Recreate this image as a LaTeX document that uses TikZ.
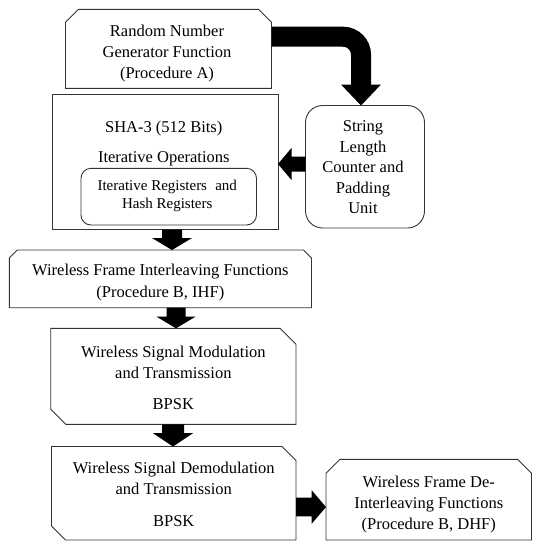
\documentclass[tikz,border=0pt]{standalone}
\usepackage{fontspec}
\setmainfont{Liberation Serif}
\usetikzlibrary{calc}
% chamfered outline around a (shape-only) node: name, tl, tr, br, bl
\newcommand{\chbox}[5]{%
  \draw[outline] ([yshift=-#2pt]#1.north west) -- ([xshift=#2pt]#1.north west)
    -- ([xshift=-#3pt]#1.north east) -- ([yshift=-#3pt]#1.north east)
    -- ([yshift=#4pt]#1.south east) -- ([xshift=-#4pt]#1.south east)
    -- ([xshift=#5pt]#1.south west) -- ([yshift=#5pt]#1.south west) -- cycle;}
% block arrows: start, tip, shaft half width, head half width, head length
\newcommand{\blkdown}[5]{%
  \fill[blk] let \p1=#1, \p2=#2 in (\x2-#3,\y1) -- (\x2-#3,\y2+#5) -- (\x2-#4,\y2+#5)
    -- (\x2,\y2) -- (\x2+#4,\y2+#5) -- (\x2+#3,\y2+#5) -- (\x2+#3,\y1) -- cycle;}
\newcommand{\blkleft}[5]{%
  \fill[blk] let \p1=#1, \p2=#2 in (\x1,\y2-#3) -- (\x2+#5,\y2-#3) -- (\x2+#5,\y2-#4)
    -- (\x2,\y2) -- (\x2+#5,\y2+#4) -- (\x2+#5,\y2+#3) -- (\x1,\y2+#3) -- cycle;}
\newcommand{\blkright}[5]{%
  \fill[blk] let \p1=#1, \p2=#2 in (\x1,\y2-#3) -- (\x2-#5,\y2-#3) -- (\x2-#5,\y2-#4)
    -- (\x2,\y2) -- (\x2-#5,\y2+#4) -- (\x2-#5,\y2+#3) -- (\x1,\y2+#3) -- cycle;}
\tikzset{
  outline/.style={draw=black!80, line width=0.9pt},
  shapebox/.style={draw=none, inner sep=0pt, outer sep=0pt},
  roundbox/.style={outline, inner sep=0pt, outer sep=0pt},
  blk/.style={fill=black},
  lbl/.style={align=center, inner sep=0pt, font=\fontsize{16.5}{21}\selectfont},
  smalllbl/.style={align=center, inner sep=0pt, font=\fontsize{15}{18.5}\selectfont},
}
\begin{document}
\begin{tikzpicture}[x=1pt, y=-1pt]
\useasboundingbox (0,0) rectangle (541,550);
\fill[white] (0,0) rectangle (541,550);

% boxes
\node[shapebox, minimum width=206pt, minimum height=79pt] (A) at (168.5,48.8) {};
\chbox{A}{13}{13}{0}{0}
\node[roundbox, minimum width=225.5pt, minimum height=135.2pt] (sha) at (165.25,161.9) {};
\node[roundbox, rounded corners=10pt, minimum width=175.5pt, minimum height=56.7pt] (reg) at (168.75,196.65) {};
\node[roundbox, rounded corners=17pt, minimum width=119pt, minimum height=122.5pt] (str) at (365,166.75) {};
\node[shapebox, minimum width=302.2pt, minimum height=57.7pt] (wf) at (160.4,278.85) {};
\chbox{wf}{8}{8}{0}{0}
\node[shapebox, minimum width=245.3pt, minimum height=96pt] (mod) at (173.35,376.3) {};
\chbox{mod}{0}{16}{0}{15}
\node[shapebox, minimum width=244.5pt, minimum height=93.5pt] (dem) at (173.75,493.25) {};
\chbox{dem}{0}{14}{0}{14}
\node[shapebox, minimum width=205.5pt, minimum height=80.7pt] (dei) at (428.75,499.65) {};
\chbox{dei}{14}{14}{0}{0}

% labels
\node[lbl] (At) at ([xshift=-1.5pt,yshift=-4.5pt]A.center) {Random Number\\Generator Function\\(Procedure A)};
\node[lbl] (shat) at ([xshift=-1.5pt,yshift=18.5pt]sha.center) {SHA-3 (512 Bits)\\[9pt]Iterative Operations};
\node[smalllbl] (regt) at ([xshift=-1.5pt,yshift=0.5pt]reg.center) {Iterative Registers\hspace{0.3em} and\\Hash Registers};
\node[lbl, font=\fontsize{16.5}{20.5}\selectfont] (strt) at ([xshift=-2pt,yshift=-0.8pt]str.center) {String\\Length\\Counter and\\Padding\\Unit};
\node[lbl, font=\fontsize{16.5}{22}\selectfont] (wft) at ([yshift=-3.2pt]wf.center) {Wireless Frame Interleaving Functions\\(Procedure B, IHF)};
\node[lbl] (modt) at ([yshift=-1.3pt]mod.center) {Wireless Signal Modulation\\and Transmission\\[10pt]BPSK};
\node[lbl] (demt) at ([yshift=-1.3pt]dem.center) {Wireless Signal Demodulation\\and Transmission\\[10.5pt]BPSK};
\node[lbl] (deit) at ([yshift=-4.7pt]dei.center) {Wireless Frame De-\\Interleaving Functions\\(Procedure B, DHF)};

% connectors
\draw[line width=20pt, rounded corners=18pt] ([yshift=12.1pt]A.east) -| ([xshift=-4pt,yshift=19.5pt]str.north);
\fill[blk] let \p1=([xshift=-4pt]str.north) in (\p1) -- (\x1-20,\y1+21) -- (\x1+20,\y1+21) -- cycle;
\blkleft{([yshift=2.75pt]str.west)}{([yshift=-2.1pt]sha.east)}{7.5}{16}{13.5}
\blkdown{([xshift=6.75pt]sha.south)}{([xshift=11.6pt]wf.north)}{10}{20}{12}
\blkdown{([xshift=15.6pt]wf.south)}{([xshift=2.65pt]mod.north)}{9.5}{19.5}{11.6}
\blkdown{([xshift=-0.35pt]mod.south)}{([xshift=-0.75pt]dem.north)}{11}{20}{13.3}
\blkright{([yshift=-13.75pt]dem.east)}{([yshift=-7.35pt]dei.west)}{9.3}{16.7}{14.3}
\end{tikzpicture}
\end{document}
